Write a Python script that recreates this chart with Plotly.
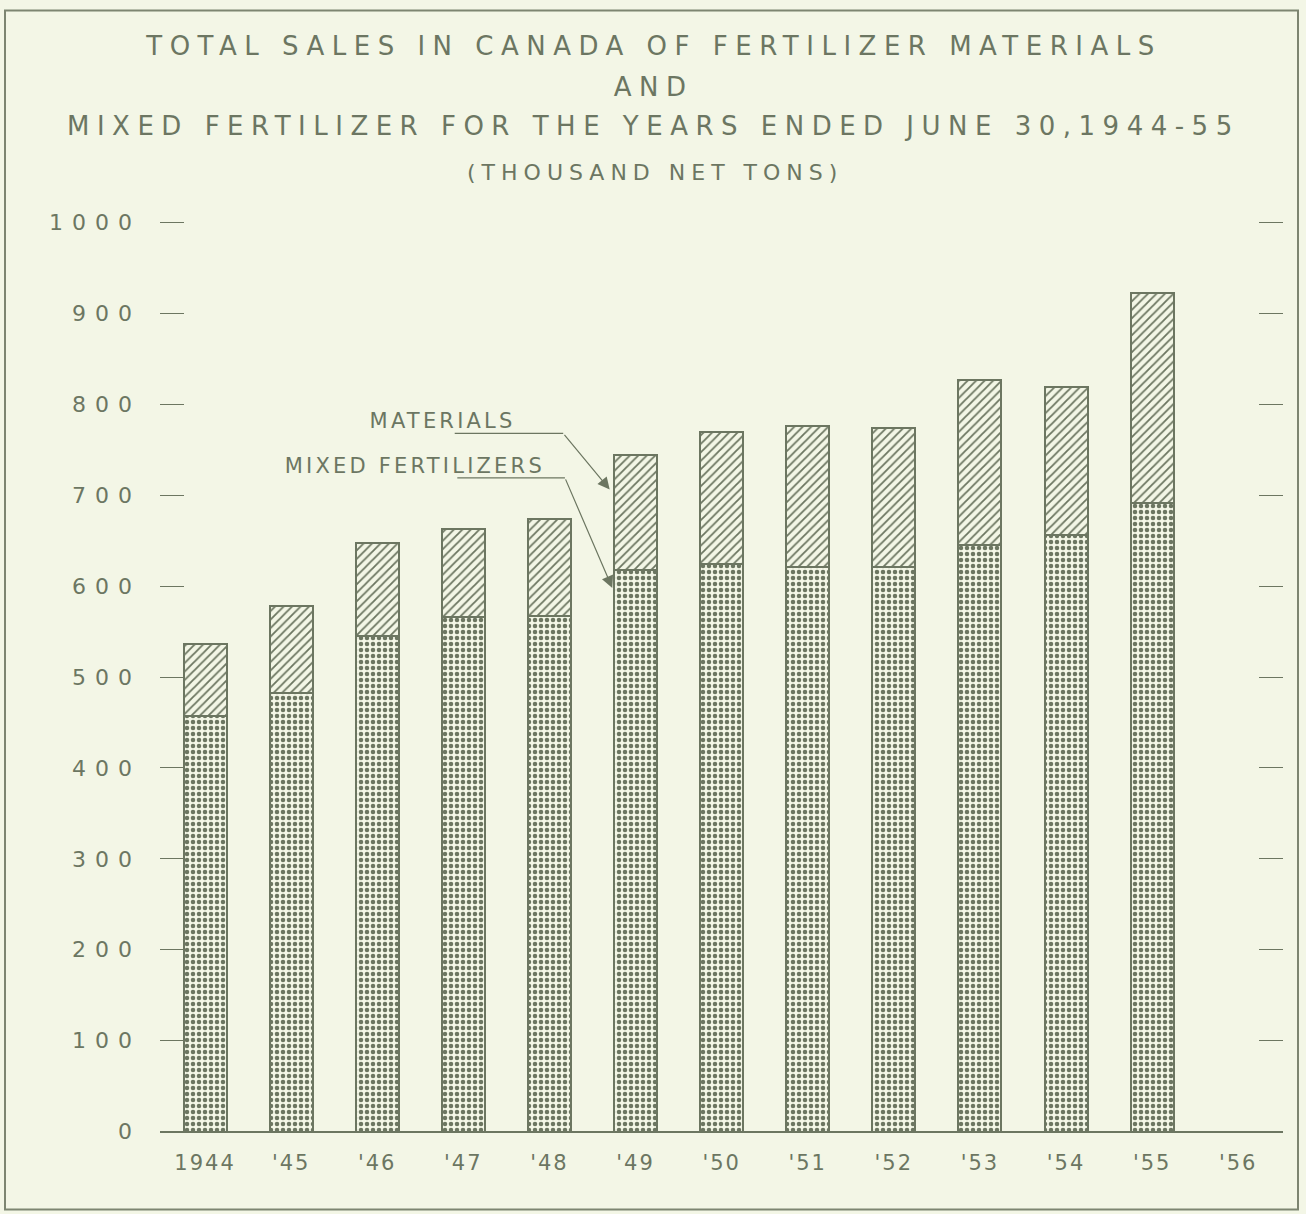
import plotly.graph_objects as go

# ---- data (thousand net tons) ----
year_labels = ["1944", "'45", "'46", "'47", "'48", "'49", "'50", "'51", "'52", "'53", "'54", "'55", "'56"]
mixed_fertilizers = [457, 482, 545, 566, 567, 618, 624, 621, 621, 645, 656, 691]
materials = [79, 96, 102, 97, 107, 126, 145, 155, 153, 182, 163, 231]
y_ticks = [0, 100, 200, 300, 400, 500, 600, 700, 800, 900, 1000]

title_lines = [
    "TOTAL SALES IN CANADA OF FERTILIZER MATERIALS",
    "AND",
    "MIXED FERTILIZER FOR THE YEARS ENDED JUNE 30,1944-55",
]
subtitle = "(THOUSAND NET TONS)"

BG = "#f3f6e6"
INK = "#6c7661"
TXT = "#6c7662"
FONT = "DejaVu Sans, sans-serif"
BAR_W = 0.5

x_idx = list(range(len(mixed_fertilizers)))

fig = go.Figure()
fig.add_trace(go.Bar(
    x=x_idx, y=mixed_fertilizers, width=BAR_W, name="MIXED FERTILIZERS",
    marker=dict(color=BG, line=dict(color=INK, width=2),
                pattern=dict(shape=".", fgcolor=INK, bgcolor=BG, size=6, solidity=0.45, fillmode="replace")),
    hoverinfo="skip",
))
fig.add_trace(go.Bar(
    x=x_idx, y=materials, width=BAR_W, name="MATERIALS",
    marker=dict(color=BG, line=dict(color=INK, width=2),
                pattern=dict(shape="/", fgcolor=INK, bgcolor=BG, size=6, solidity=0.3, fillmode="replace")),
    hoverinfo="skip",
))

W, H = 1306, 1214
PX_PER_UNIT = 0.91
Y_LO, Y_HI = -1.5, 1001.5
L, R = 160, 23
B = (H - 1132) - (0 - Y_LO) * PX_PER_UNIT
plot_h = (Y_HI - Y_LO) * PX_PER_UNIT
T = H - B - plot_h
plot_w = W - L - R

def py(px_y):
    return (H - B - px_y) / plot_h

def pxx(px_x):
    return (px_x - L) / plot_w

annotations = []
title_y = [45, 87, 126]
for txt, yy in zip(title_lines, title_y):
    annotations.append(dict(text=txt, xref="paper", yref="paper", x=pxx(653), y=py(yy),
                            xanchor="center", yanchor="middle", showarrow=False,
                            font=dict(family=FONT, size=26, color=TXT)))
annotations.append(dict(text=subtitle, xref="paper", yref="paper", x=pxx(655), y=py(172),
                        xanchor="center", yanchor="middle", showarrow=False,
                        font=dict(family=FONT, size=22, color=TXT)))

# legend callouts pointing to the '49 bar
k = 5
edge = k - BAR_W / 2 - 0.05
mat_head_y = mixed_fertilizers[k] + 0.7 * materials[k]
mix_head_y = mixed_fertilizers[k] - 20
annotations.append(dict(text="MATERIALS", x=2.76, y=781, xref="x", yref="y", showarrow=False,
                        xanchor="center", yanchor="middle", font=dict(family=FONT, size=21, color=TXT)))
annotations.append(dict(text="MIXED FERTILIZERS", x=2.44, y=732, xref="x", yref="y", showarrow=False,
                        xanchor="center", yanchor="middle", font=dict(family=FONT, size=21, color=TXT)))
annotations.append(dict(text="", x=edge, y=mat_head_y, ax=4.16, ay=768, axref="x", ayref="y",
                        xref="x", yref="y", showarrow=True, arrowhead=2, arrowsize=2.0, arrowwidth=1.2,
                        arrowcolor=INK, standoff=0, startstandoff=0))
annotations.append(dict(text="", x=edge + 0.03, y=mix_head_y, ax=4.18, ay=719, axref="x", ayref="y",
                        xref="x", yref="y", showarrow=True, arrowhead=2, arrowsize=2.0, arrowwidth=1.2,
                        arrowcolor=INK, standoff=0, startstandoff=0))

shapes = [
    dict(type="line", xref="x", yref="y", x0=2.90, x1=4.16, y0=768, y1=768, line=dict(color=INK, width=1.2)),
    dict(type="line", xref="x", yref="y", x0=2.93, x1=4.18, y0=719, y1=719, line=dict(color=INK, width=1.2)),
    dict(type="rect", xref="paper", yref="paper", x0=pxx(5), x1=pxx(1298), y0=py(1210), y1=py(10),
         line=dict(color="#7d8571", width=2), layer="below"),
]

fig.update_layout(
    width=W, height=H,
    margin=dict(l=L, r=R, t=T, b=B, pad=0),
    paper_bgcolor=BG, plot_bgcolor=BG,
    barmode="stack", bargap=0, showlegend=False,
    font=dict(family=FONT, color=TXT),
    annotations=annotations, shapes=shapes,
    xaxis=dict(range=[-0.523, 12.52], tickmode="array", tickvals=list(range(len(year_labels))),
               ticktext=year_labels, showgrid=False, zeroline=False, showline=False,
               ticks="", ticklabelstandoff=15,
               tickfont=dict(family=FONT, size=21, color=TXT), fixedrange=True),
    yaxis=dict(range=[Y_LO, Y_HI], tickmode="array", tickvals=y_ticks, ticktext=[str(v) for v in y_ticks],
               showgrid=False, zeroline=True, zerolinecolor=INK, zerolinewidth=2.2,
               showline=False, ticks="inside", ticklen=24,
               tickwidth=1.2, tickcolor=INK, mirror="ticks", ticklabelstandoff=18,
               tickfont=dict(family=FONT, size=22, color=TXT), fixedrange=True),
)

post = """
document.body.style.margin='0';
document.body.style.overflow='hidden';
var gd = document.getElementById('{plot_id}');
gd.querySelectorAll('.ytick text').forEach(function(e){ e.style.letterSpacing='9px'; });
gd.querySelectorAll('.xtick text').forEach(function(e){ e.style.letterSpacing='2px'; });
gd.querySelectorAll('.annotation-text').forEach(function(e){
  var t = e.textContent;
  if (t.indexOf('TOTAL')===0 || t.indexOf('MIXED FERTILIZER F')===0 || t==='AND') e.style.letterSpacing='7.5px';
  else if (t.indexOf('(THOUSAND')===0) e.style.letterSpacing='6px';
  else e.style.letterSpacing='3.2px';
});
"""

fig.write_html("out.html", config={"displayModeBar": False}, post_script=post)
